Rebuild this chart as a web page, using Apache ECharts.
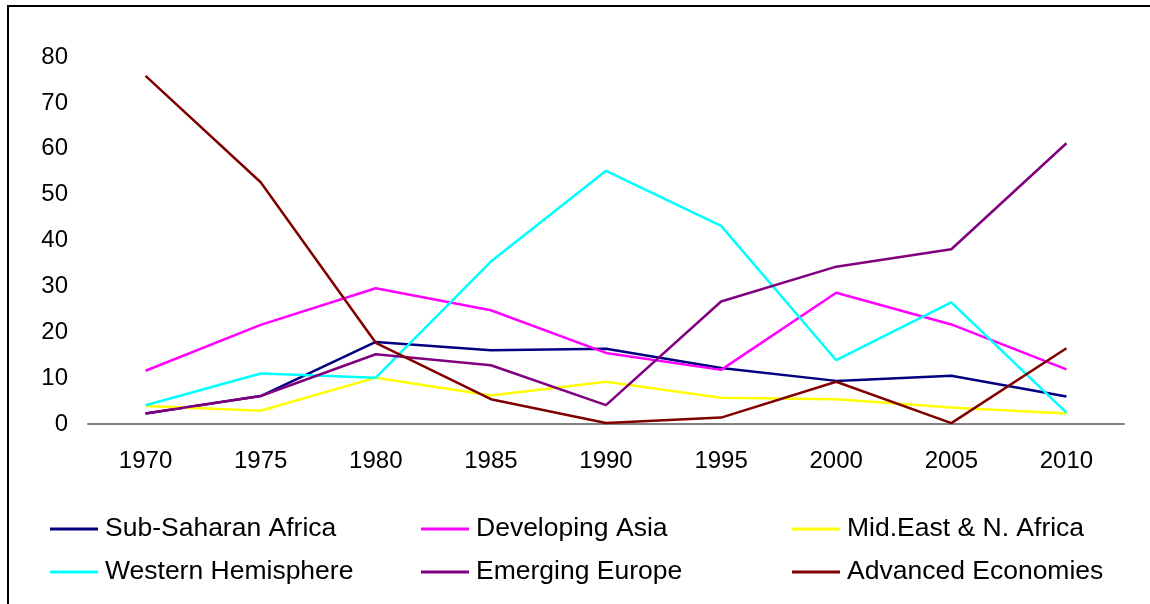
<!DOCTYPE html>
<html>
<head>
<meta charset="utf-8">
<script src="https://cdn.jsdelivr.net/npm/echarts@6/dist/echarts.min.js"></script>
<style>html,body{margin:0;padding:0;background:#fff;}#c{width:1150px;height:604px;}</style>
</head>
<body>
<div id="c"></div>
<script>
var years = ['1970','1975','1980','1985','1990','1995','2000','2005','2010'];
var subSaharanAfrica = [2.3, 6.1, 17.9, 16.1, 16.4, 12.2, 9.4, 10.5, 6.0];
var developingAsia = [11.6, 21.6, 29.6, 24.8, 15.5, 11.8, 28.6, 21.7, 11.9];
var midEastNAfrica = [3.9, 2.9, 10.1, 6.2, 9.2, 5.7, 5.4, 3.6, 2.3];
var westernHemisphere = [4.1, 11.0, 10.1, 35.4, 55.2, 43.2, 13.9, 26.5, 2.5];
var emergingEurope = [2.3, 6.1, 15.2, 12.8, 4.1, 26.7, 34.3, 38.1, 61.2];
var advancedEconomies = [75.9, 52.7, 17.7, 5.4, 0.2, 1.4, 9.2, 0.2, 16.5];
var yTicks = [0, 80, 10];

var seriesDefs = [
  ['Sub-Saharan Africa', subSaharanAfrica, '#000080'],
  ['Developing Asia', developingAsia, '#FF00FF'],
  ['Mid.East & N. Africa', midEastNAfrica, '#FFFF00'],
  ['Western Hemisphere', westernHemisphere, '#00FFFF'],
  ['Emerging Europe', emergingEurope, '#800080'],
  ['Advanced Economies', advancedEconomies, '#800000']
];

var font = 'Liberation Sans, Arial, sans-serif';
function legendCol(names, left) {
  return {
    orient: 'vertical', left: left, top: 514,
    icon: 'rect', itemWidth: 48, itemHeight: 3, itemGap: 13,
    selectedMode: false,
    data: names,
    textStyle: { fontFamily: font, fontSize: 26.5, color: '#000', lineHeight: 30, padding: [0, 0, 0, 2] },
    padding: 0
  };
}

var chart = echarts.init(document.getElementById('c'), null, { renderer: 'canvas' });
chart.setOption({
  backgroundColor: '#fff',
  animation: false,
  graphic: [{
    type: 'rect', shape: { x: 8, y: 6, width: 1300, height: 800 },
    style: { fill: 'none', stroke: '#000', lineWidth: 2 }, silent: true
  }],
  grid: { left: 88, right: 26, top: 57, bottom: 180, containLabel: false },
  legend: [
    legendCol([seriesDefs[0][0], seriesDefs[3][0]], 50),
    legendCol([seriesDefs[1][0], seriesDefs[4][0]], 421),
    legendCol([seriesDefs[2][0], seriesDefs[5][0]], 792)
  ],
  xAxis: {
    type: 'category', data: years, boundaryGap: true,
    axisLine: { lineStyle: { color: '#808080', width: 2 } },
    axisTick: { show: false },
    axisLabel: { fontFamily: font, fontSize: 24, color: '#000', margin: 25 }
  },
  yAxis: {
    type: 'value', min: yTicks[0], max: yTicks[1], interval: yTicks[2],
    axisLine: { show: false }, axisTick: { show: false }, splitLine: { show: false },
    axisLabel: { fontFamily: font, fontSize: 24, color: '#000', margin: 20, padding: [3, 0, 0, 0] }
  },
  series: seriesDefs.map(function (d) {
    return {
      name: d[0], type: 'line', data: d[1], symbol: 'none',
      lineStyle: { color: d[2], width: 2.5 }, itemStyle: { color: d[2] }
    };
  })
});
</script>
</body>
</html>
